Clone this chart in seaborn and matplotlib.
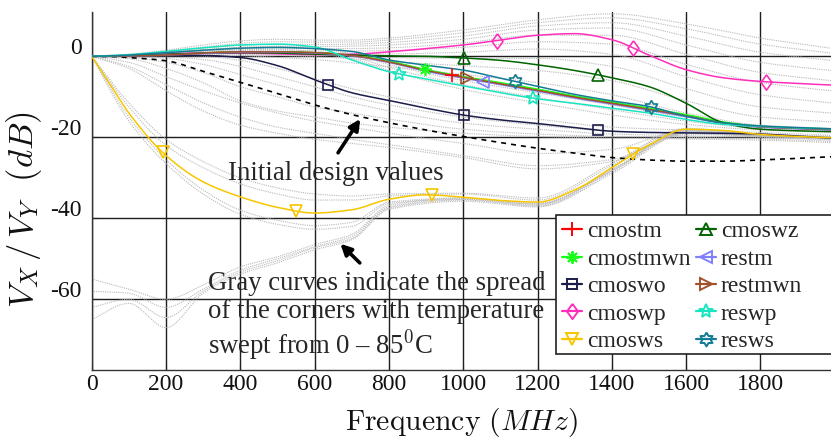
import numpy as np
import pandas as pd
import matplotlib
matplotlib.use("Agg")
import matplotlib.pyplot as plt
import matplotlib.transforms as mtransforms
from matplotlib.lines import Line2D
from matplotlib.patches import Rectangle
import seaborn as sns

# ---------------------------------------------------------------- data
freq = [0, 50, 100, 200, 300, 400, 500, 600, 700, 800, 900, 1000,
        1100, 1200, 1300, 1400, 1500, 1600, 1700, 1800, 1900, 1990]

initial_design = [0, -0.05, -0.3, -1.1, -3.7, -6.4, -9.2, -12.0, -14.4, -16.4, -18.2, -19.8,
                  -21.3, -22.7, -23.9, -25.0, -25.6, -25.9, -25.9, -25.6, -25.2, -24.8]

cmostm = [0, 0.05, 0.1, 0.3, 0.8, 1.1, 1.1, 0.9, 0.2, -1.3, -3.4, -5.1,
          -6.7, -8.3, -10.0, -11.5, -13.0, -14.6, -16.4, -17.4, -17.8, -18.1]
cmostmwn = [0, 0.05, 0.1, 0.3, 0.8, 1.1, 1.1, 0.9, 0.3, -1.2, -3.3, -5.0,
            -6.5, -8.1, -9.8, -11.3, -12.8, -14.4, -16.2, -17.3, -17.7, -18.0]
cmoswo = [0, 0.05, 0.1, 0.2, 0.2, -0.3, -2.3, -5.8, -9.0, -10.9, -12.8, -14.5,
          -15.7, -16.6, -17.6, -18.5, -18.8, -18.9, -19.0, -19.2, -19.7, -20.2]
cmoswp = [0, 0.05, 0.2, 0.6, 0.8, 0.8, 0.6, 0.4, 0.5, 1.1, 1.9, 2.8,
          4.0, 5.2, 5.6, 4.1, 0.3, -3.3, -5.3, -6.2, -6.7, -7.1]
cmosws = [0, -7.0, -14.0, -24.5, -31.0, -34.7, -37.3, -38.7, -37.9, -35.3, -34.2, -34.8,
          -35.6, -36.0, -33.0, -27.5, -21.9, -18.0, -18.3, -19.3, -19.8, -20.1]
cmoswz = [0, 0.05, 0.2, 0.5, 0.8, 0.9, 0.8, 0.5, 0.3, 0.1, 0.0, -0.4,
          -1.0, -2.1, -3.5, -5.3, -7.5, -11.6, -16.4, -18.0, -18.4, -18.6]
restm = [0, 0.05, 0.1, 0.3, 0.7, 1.0, 1.0, 0.8, 0.1, -1.5, -3.7, -5.4,
         -7.0, -8.6, -10.3, -11.8, -13.3, -14.9, -16.6, -17.5, -17.9, -18.2]
restmwn = [0, 0.05, 0.1, 0.3, 0.8, 1.1, 1.1, 0.9, 0.2, -1.4, -3.5, -5.2,
           -6.8, -8.4, -10.1, -11.6, -13.1, -14.7, -16.5, -17.4, -17.8, -18.1]
reswp = [0, 0.15, 0.4, 1.2, 2.1, 2.8, 3.0, 2.3, -0.9, -3.8, -5.6, -7.3,
         -9.0, -10.5, -11.6, -12.8, -14.0, -15.6, -16.8, -17.3, -17.7, -17.9]
resws = [0, 0.1, 0.3, 0.9, 1.5, 2.0, 2.2, 1.9, 1.2, -0.9, -2.2, -3.4,
         -5.4, -7.4, -9.4, -11.0, -12.4, -14.8, -16.4, -17.2, -17.6, -17.9]

series_names = ["cmostm", "cmostmwn", "cmoswo", "cmoswp", "cmosws",
                "cmoswz", "restm", "restmwn", "reswp", "resws"]
series_values = [cmostm, cmostmwn, cmoswo, cmoswp, cmosws,
                 cmoswz, restm, restmwn, reswp, resws]
# frequencies (MHz) where each curve carries its marker symbols
marker_freqs = [[969], [897], [637, 1003, 1363], [1090, 1456, 1816], [191, 550, 915, 1457],
                [1003, 1362], [1052], [1009], [828, 1187], [1139, 1505]]

# temperature-sweep corners (gray), sampled on a coarser grid
corner_freq = [0, 100, 200, 300, 400, 500, 600, 700, 800, 1000, 1200, 1400, 1600, 1800, 1990]
corners_upper = [
    [0, 0.5, 1.5, 2.8, 3.8, 4.2, 4.0, 4.0, 4.5, 6.5, 9.0, 10.5, 8.0, 4.5, 2.0],
    [0, 0.4, 1.3, 2.3, 3.2, 3.6, 3.5, 3.5, 4.0, 5.8, 8.3, 9.5, 6.8, 3.0, 0.8],
    [0, 0.4, 1.2, 2.0, 2.7, 3.0, 2.9, 3.0, 3.4, 5.0, 7.5, 8.3, 5.0, 1.0, -1.0],
    [0, 0.3, 1.0, 1.6, 2.2, 2.5, 2.4, 2.5, 2.8, 4.2, 6.5, 7.0, 2.8, -1.5, -3.5],
    [0, 0.3, 0.9, 1.4, 1.8, 2.0, 1.9, 1.9, 2.1, 3.3, 5.2, 5.2, 0.5, -4.0, -6.0],
    [0, 0.3, 0.8, 1.2, 1.4, 1.5, 1.4, 1.3, 1.4, 2.2, 3.6, 3.0, -2.0, -6.5, -8.5],
    [0, 0.2, 0.7, 1.0, 1.1, 1.0, 0.9, 0.7, 0.6, 1.0, 1.8, 0.5, -5.0, -9.5, -11.5],
    [0, 0.2, 0.6, 0.8, 0.8, 0.6, 0.4, 0.1, -0.3, -0.5, -0.5, -2.5, -8.0, -12.5, -14.0],
    [0, 0.2, 0.5, 0.6, 0.5, 0.2, -0.1, -0.6, -1.3, -2.3, -3.5, -6.0, -11.0, -15.0, -16.2],
    [0, 0.1, 0.4, 0.4, 0.2, -0.3, -0.8, -1.6, -2.6, -4.5, -6.5, -9.5, -14.0, -17.0, -17.8],
]
corners_middle = [
    [0, 0.3, 0.9, 1.6, 2.2, 2.4, 2.0, 0.6, -2.0, -6.0, -9.0, -12.0, -15.0, -17.2, -18.0],
    [0, 0.2, 0.7, 1.2, 1.6, 1.7, 1.2, 0.0, -2.8, -7.0, -10.2, -13.2, -16.0, -17.8, -18.4],
    [0, 0.2, 0.6, 1.0, 1.2, 1.2, 0.7, -0.6, -3.5, -8.2, -11.5, -14.5, -16.8, -18.2, -18.8],
]
corners_lower = [
    [0, 0.1, 0.2, 0.0, -1.0, -3.0, -5.5, -8.0, -10.0, -13.5, -15.5, -17.5, -18.2, -18.8, -19.5],
    [0, 0.0, -0.2, -0.8, -2.5, -5.0, -7.5, -10.0, -12.0, -15.0, -17.0, -18.5, -19.0, -19.5, -20.2],
    [0, 0.0, -0.5, -2.0, -4.5, -7.0, -9.5, -11.5, -13.5, -16.5, -18.0, -19.2, -19.6, -20.0, -20.7],
    [0, -0.3, -1.5, -4.0, -7.5, -10.0, -12.5, -14.0, -15.5, -18.0, -19.2, -19.8, -20.0, -20.4, -21.0],
    [0, -0.6, -3.0, -6.5, -11.0, -13.5, -15.0, -16.5, -17.5, -19.0, -19.8, -20.2, -20.4, -20.7, -21.3],
]
corners_sag = [
    [0, -1.5, -5.0, -8.5, -11.5, -14.0, -16.0, -17.5, -19.0, -21.5, -24.0, -23.0, -18.3, -19.2, -19.8],
    [0, -2.5, -7.0, -11.5, -15.0, -17.5, -19.0, -20.5, -21.8, -24.5, -27.0, -25.5, -18.8, -19.4, -20.0],
    [0, -3.0, -8.5, -13.5, -17.0, -19.0, -20.5, -21.5, -22.5, -25.0, -27.8, -26.0, -19.0, -19.5, -20.1],
]
corners_ws = [
    [0, -16.0, -26.5, -34.0, -39.0, -41.5, -42.7, -42.0, -36.3, -35.3, -36.5, -28.3, -18.5, -19.6, -20.2],
    [0, -15.0, -25.5, -33.0, -38.0, -40.5, -41.8, -41.0, -36.0, -35.0, -36.3, -28.0, -18.4, -19.5, -20.1],
    [0, -12.5, -22.0, -27.5, -31.5, -34.0, -35.5, -35.5, -34.5, -34.0, -35.5, -27.0, -18.0, -19.3, -19.9],
    [0, -11.5, -20.5, -26.0, -30.0, -32.5, -34.0, -34.5, -34.0, -33.8, -35.0, -26.5, -17.8, -19.2, -19.8],
]
corners_floor = [
    [-55, -57.5, -60.0, -56.5, -52.0, -49.5, -46.5, -44.0, -36.8, -35.0, -36.5, -28.0, -18.6, -19.6, -20.2],
    [-58, -58.5, -62.0, -57.5, -52.8, -50.0, -47.0, -44.5, -37.2, -35.3, -36.8, -28.3, -18.8, -19.7, -20.3],
    [-62, -60.0, -64.5, -58.0, -53.3, -50.5, -47.3, -45.0, -37.5, -35.5, -37.0, -28.6, -19.0, -19.8, -20.4],
    [-65, -61.0, -67.0, -58.5, -53.8, -51.0, -47.8, -45.3, -37.8, -35.8, -37.2, -29.0, -19.2, -19.9, -20.5],
]

x_ticks = [0, 200, 400, 600, 800, 1000, 1200, 1400, 1600, 1800]
y_ticks = [0, -20, -40, -60]

# ---------------------------------------------------------------- styling
colors = ["#ff0000", "#1aff1a", "#1c1c4a", "#ff2fbb", "#f7c600",
          "#006400", "#8080ff", "#a0522d", "#19e6c0", "#137c94"]

diamond = [(0, 1), (0.72, 0), (0, -1), (-0.72, 0), (0, 1)]
hexa = []
for k in range(12):
    r = 1.0 if k % 2 == 0 else 0.58
    a = np.pi / 2 + k * np.pi / 6
    hexa.append((r * np.cos(a), r * np.sin(a)))
hexa.append(hexa[0])
markers = ["+", (8, 2, 0), "s", diamond, "v", "^", "<", ">", "*", hexa]
msizes = [10, 9, 7, 11, 9, 9, 9, 9, 10, 10]


def smooth(xk, yk, xs):
    """Shape-preserving cubic Hermite curve through the sampled points."""
    xk = np.asarray(xk, float)
    yk = np.asarray(yk, float)
    h = np.diff(xk)
    d = np.diff(yk) / h
    m = np.zeros_like(yk)
    for k in range(1, len(xk) - 1):
        if d[k - 1] * d[k] > 0:
            w1 = 2 * h[k] + h[k - 1]
            w2 = h[k] + 2 * h[k - 1]
            m[k] = (w1 + w2) / (w1 / d[k - 1] + w2 / d[k])
    m[0], m[-1] = d[0], d[-1]
    i = np.clip(np.searchsorted(xk, xs) - 1, 0, len(xk) - 2)
    t = (xs - xk[i]) / h[i]
    return ((2 * t**3 - 3 * t**2 + 1) * yk[i] + (t**3 - 2 * t**2 + t) * h[i] * m[i]
            + (-2 * t**3 + 3 * t**2) * yk[i + 1] + (t**3 - t**2) * h[i] * m[i + 1])


sns.set_theme(style="ticks")
plt.rcParams["font.family"] = ["Liberation Serif", "DejaVu Serif"]
plt.rcParams["mathtext.fontset"] = "cm"
plt.rcParams["axes.unicode_minus"] = False

W, H = 831, 441
fig = plt.figure(figsize=(W / 100, H / 100), dpi=100)
ax_left, ax_top, ax_bottom = 91.7, 12, 370
ax = fig.add_axes([ax_left / W, 1 - ax_bottom / H, 1 - ax_left / W, (ax_bottom - ax_top) / H])

dense = np.linspace(0, 1990, 800)

# gray temperature corners
for family in (corners_upper, corners_middle, corners_lower, corners_sag, corners_ws, corners_floor):
    for vals in family:
        df = pd.DataFrame({"f": dense, "v": smooth(corner_freq, vals, dense)})
        sns.lineplot(data=df, x="f", y="v", ax=ax, color="#b8b8b8", lw=0.8,
                     linestyle=(0, (1, 1)), legend=False, zorder=1)

# initial design (dashed)
df = pd.DataFrame({"f": dense, "v": smooth(freq, initial_design, dense)})
sns.lineplot(data=df, x="f", y="v", ax=ax, color="black", lw=1.2,
             linestyle=(0, (3, 3)), legend=False, zorder=3)

handles = []
for name, vals, col, mk, ms, mf in zip(series_names, series_values, colors, markers, msizes, marker_freqs):
    df = pd.DataFrame({"f": dense, "v": smooth(freq, vals, dense)})
    sns.lineplot(data=df, x="f", y="v", ax=ax, color=col, lw=1.1, legend=False, zorder=4)
    mf = np.asarray(mf, float)
    ax.plot(mf, smooth(freq, vals, mf), ls="none", marker=mk, ms=ms, mfc="none",
            mec=col, mew=1.2, zorder=5)
    handles.append(Line2D([], [], color=col, lw=1.6, marker=mk, ms=ms, mfc="none",
                          mec=col, mew=1.4))

# axes, ticks, grid
ax.set_xlim(0, 1990)
ax.set_ylim(-77.46, 10.94)
ax.set_xticks(x_ticks)
ax.set_xticklabels([str(t) for t in x_ticks])
ax.set_yticks(y_ticks)
ax.set_yticklabels([str(t) for t in y_ticks])
ax.grid(True, color="#1e1e1e", lw=1.0)
ax.set_axisbelow(True)
for s in ("top", "right"):
    ax.spines[s].set_visible(False)
for s in ("left", "bottom"):
    ax.spines[s].set_color("#333333")
    ax.spines[s].set_linewidth(1.0)
ax.tick_params(axis="both", direction="in", length=4, width=0.8, colors="#222222",
               labelsize=17, labelcolor="#111111")
ax.tick_params(axis="x", pad=3)
ax.tick_params(axis="y", pad=7)
up = mtransforms.ScaledTranslation(0, 10 / 100, fig.dpi_scale_trans)
for lab in ax.get_yticklabels():
    lab.set_transform(lab.get_transform() + up)

ax.set_xlabel(r"$\mathrm{Frequency}\ (MHz)$", fontsize=21.4, color="#111111")
ax.xaxis.set_label_coords(0.5, (ax_bottom - 406) / (ax_bottom - ax_top))
ax.set_ylabel(r"$V_X\,/\,V_Y\ \ (dB)$", fontsize=25, color="#111111")
ax.yaxis.set_label_coords((44 - ax_left) / (W - ax_left), (ax_bottom - 210) / (ax_bottom - ax_top))

# annotations
ax.text(367, -28.9, "Initial design values", fontsize=19.3, ha="left", va="center", zorder=6)
ax.annotate("", xy=(727, -14.9), xytext=(659, -24.4),
            arrowprops=dict(arrowstyle="-|>", color="black", lw=2.6, mutation_scale=16), zorder=6)
ax.text(314, -53.0, "Gray curves indicate the spread\nof the corners with temperature\nswept from 0 – 85$^0$C",
        fontsize=19.3, ha="left", va="top", linespacing=1.14, zorder=6)
ax.annotate("", xy=(664, -45.8), xytext=(727, -51.5),
            arrowprops=dict(arrowstyle="-|>", color="black", lw=2.6, mutation_scale=16), zorder=6)

# legend box runs past the right edge of the figure
box = Rectangle((556 / W, 1 - 354 / H), (845 - 556) / W, (354 - 215) / H,
                transform=fig.transFigure, facecolor="white", edgecolor="#222222",
                lw=1.2, zorder=9, clip_on=False)
ax.add_patch(box)
leg = ax.legend(handles, series_names, ncol=2, loc="upper left",
                bbox_to_anchor=(556 / W, 1 - 215 / H), bbox_transform=fig.transFigure,
                frameon=False, fontsize=17, handlelength=0.85, handletextpad=0.2,
                columnspacing=0.25, labelspacing=0.25, borderpad=0.25, borderaxespad=0)
leg.set_zorder(10)

fig.savefig("out.png", dpi=100)
